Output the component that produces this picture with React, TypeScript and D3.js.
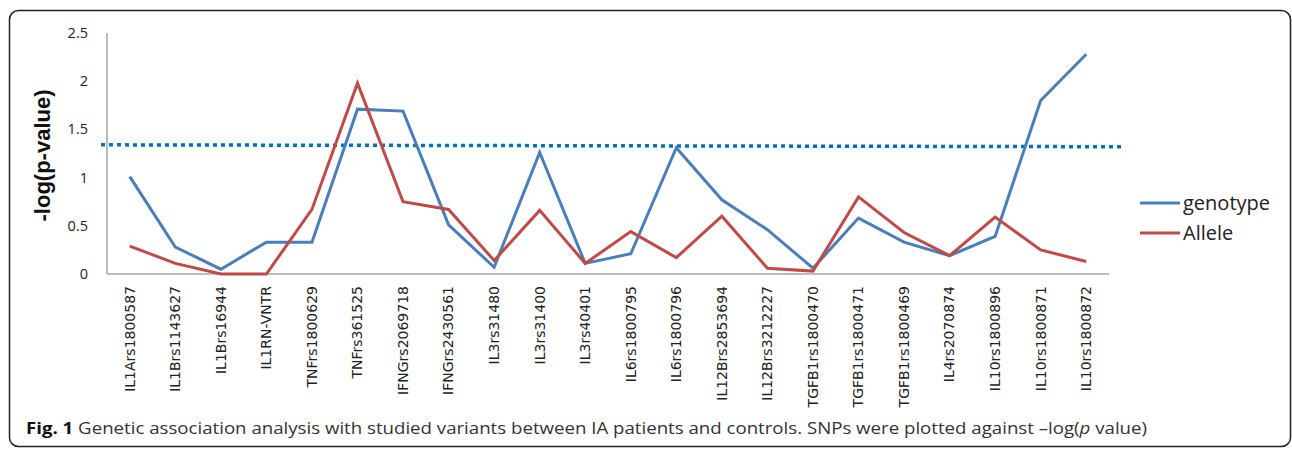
import React from 'react';
import * as d3 from 'd3';

const snps = [
  'IL1Ars1800587', 'IL1Brs1143627', 'IL1Brs16944', 'IL1RN-VNTR', 'TNFrs1800629',
  'TNFrs361525', 'IFNGrs2069718', 'IFNGrs2430561', 'IL3rs31480', 'IL3rs31400',
  'IL3rs40401', 'IL6rs1800795', 'IL6rs1800796', 'IL12Brs2853694', 'IL12Brs3212227',
  'TGFB1rs1800470', 'TGFB1rs1800471', 'TGFB1rs1800469', 'IL4rs2070874', 'IL10rs1800896',
  'IL10rs1800871', 'IL10rs1800872',
];

const genotype = [
  1.01, 0.28, 0.05, 0.33, 0.33, 1.71, 1.69, 0.51, 0.07, 1.26, 0.11,
  0.21, 1.31, 0.77, 0.46, 0.06, 0.58, 0.33, 0.19, 0.39, 1.80, 2.28,
];

const allele = [
  0.29, 0.11, 0.0, 0.0, 0.67, 1.98, 0.75, 0.67, 0.14, 0.66, 0.11,
  0.44, 0.17, 0.60, 0.06, 0.03, 0.80, 0.43, 0.19, 0.59, 0.25, 0.13,
];

// significance threshold (slightly tilted in the original)
const threshold = [1.34, 1.32];

const yTicks = [0, 0.5, 1, 1.5, 2, 2.5];

const series = [
  { name: 'genotype', values: genotype, color: '#4A7EBB' },
  { name: 'Allele', values: allele, color: '#BE4B48' },
];

const W = 1292;
const H = 449;

const App: React.FC = () => {
  const x = d3.scaleBand<string>().domain(snps).range([107, 1109]);
  const y = d3.scaleLinear().domain([0, 2.5]).range([274, 33]);
  const cx = (s: string) => (x(s) ?? 0) + x.bandwidth() / 2;

  const line = d3.line<number>()
    .x((_, i) => cx(snps[i]))
    .y(d => y(d));

  const [x0, x1] = x.range();

  return (
    <svg width={W} height={H} style={{ position: 'absolute', left: 0, top: 0, background: '#fff' }}>
      <rect x={9.5} y={10.5} width={1281} height={436} rx={9} fill="none" stroke="#222" strokeWidth={1.5} />

      {/* axes */}
      <line x1={x0} x2={x0} y1={y(2.5)} y2={y(0)} stroke="#bdbdbd" strokeWidth={2} />
      <line x1={x0} x2={x1} y1={y(0)} y2={y(0)} stroke="#bdbdbd" strokeWidth={2} />

      {yTicks.map(t => (
        <text key={t} x={88} y={y(t)} dy="0.35em" textAnchor="end"
          fontFamily="Open Sans" fontSize={14.5} fill="#222">{t}</text>
      ))}

      <text transform={`translate(42,${(y(2.5) + y(0)) / 2 + 2}) rotate(-90)`} textAnchor="middle"
        dy="0.35em" fontFamily="Liberation Sans" fontWeight="bold" fontSize={22} fill="#111">-log(p-value)</text>

      {snps.map(s => (
        <text key={s} transform={`translate(${cx(s)},286) rotate(-90)`} textAnchor="end" dy="0.35em"
          fontFamily="DejaVu Sans" fontSize={14} fill="#222">{s}</text>
      ))}

      {/* threshold */}
      <line x1={x0 - 6} x2={x1 + 16} y1={y(threshold[0])} y2={y(threshold[1])}
        stroke="#0070C0" strokeWidth={3.5} strokeDasharray="4,4" />

      {series.map(s => (
        <path key={s.name} d={line(s.values) ?? ''} fill="none" stroke={s.color}
          strokeWidth={3} strokeLinejoin="miter" />
      ))}

      {/* legend */}
      {series.map((s, i) => (
        <g key={s.name} transform={`translate(1140,${203 + i * 30})`}>
          <line x1={0} x2={40} y1={0} y2={0} stroke={s.color} strokeWidth={3} />
          <text x={43} y={0} dy="0.35em" fontFamily="Open Sans" fontSize={20} fill="#222">{s.name}</text>
        </g>
      ))}

      <text x={26} y={434} fontFamily="Open Sans" fontSize={16} fill="#333"
        textLength={1121} lengthAdjust="spacingAndGlyphs">
        <tspan fontWeight="bold" fill="#111">Fig. 1</tspan>
        {' Genetic association analysis with studied variants between IA patients and controls. SNPs were plotted against \u2013log('}
        <tspan fontStyle="italic">p</tspan>
        {' value)'}
      </text>
    </svg>
  );
};

export default App;
